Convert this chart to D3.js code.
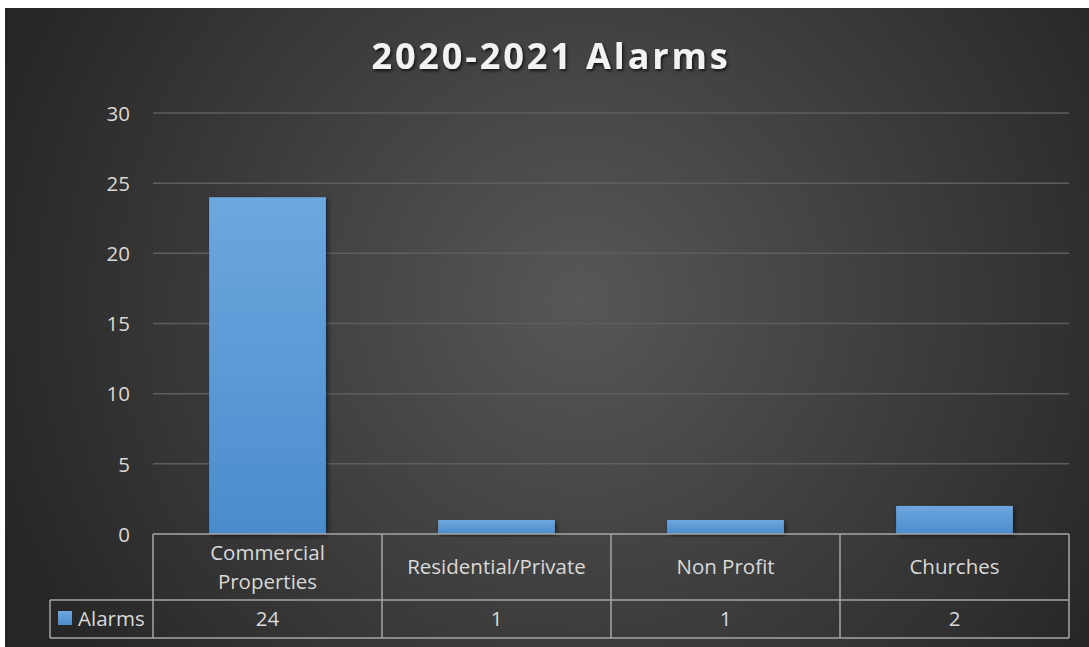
<!DOCTYPE html>
<html><head><meta charset="utf-8">
<script src="https://cdn.jsdelivr.net/npm/d3@7/dist/d3.min.js"></script>
<style>html,body{margin:0;padding:0;background:#fff;}svg{display:block;}</style>
</head><body>
<svg id="chart" width="1089" height="647"></svg>
<script>
const title = "2020-2021 Alarms";
const seriesName = "Alarms";
const categories = ["Commercial Properties", "Residential/Private", "Non Profit", "Churches"];
const categoryLines = [["Commercial", "Properties"], ["Residential/Private"], ["Non Profit"], ["Churches"]];
const values = [24, 1, 1, 2];
const yTicks = [0, 5, 10, 15, 20, 25, 30];

(function draw() {
const svg = d3.select("#chart");
const W = 1089, H = 647;
const defs = svg.append("defs");

const bg = defs.append("radialGradient").attr("id", "bg")
  .attr("gradientUnits", "userSpaceOnUse")
  .attr("cx", 580).attr("cy", 300).attr("r", 620);
bg.append("stop").attr("offset", "0%").attr("stop-color", "#575757");
bg.append("stop").attr("offset", "100%").attr("stop-color", "#262626");

const barGrad = defs.append("linearGradient").attr("id", "barg")
  .attr("x1", 0).attr("y1", 0).attr("x2", 0).attr("y2", 1);
barGrad.append("stop").attr("offset", "0%").attr("stop-color", "#6ea7de");
barGrad.append("stop").attr("offset", "100%").attr("stop-color", "#4a8ccd");

const shadow = defs.append("filter").attr("id", "sh").attr("x", "-20%").attr("y", "-20%").attr("width", "140%").attr("height", "140%");
shadow.append("feDropShadow").attr("dx", 2).attr("dy", 2).attr("stdDeviation", 2.5).attr("flood-color", "#000").attr("flood-opacity", 0.55);

const tsh = defs.append("filter").attr("id", "tsh").attr("x", "-10%").attr("y", "-30%").attr("width", "120%").attr("height", "160%");
tsh.append("feDropShadow").attr("dx", 1.5).attr("dy", 2).attr("stdDeviation", 1.5).attr("flood-color", "#000").attr("flood-opacity", 0.7);

svg.append("rect").attr("x", 5).attr("y", 8).attr("width", W - 5).attr("height", H - 8).attr("fill", "url(#bg)");

const font = "'Open Sans', 'Noto Sans', sans-serif";
const fs = 20.5;
const pLeft = 153, pRight = 1069, pTop = 113, pBottom = 534;

const x = d3.scaleBand().domain(categories).range([pLeft, pRight]).paddingInner(0.49).paddingOuter(0.245);
const xCell = d3.scaleBand().domain(categories).range([pLeft, pRight]).padding(0);
const y = d3.scaleLinear().domain([0, 30]).range([pBottom, pTop]);

// gridlines
svg.append("g").selectAll("line").data(yTicks.filter(t => t > 0)).join("line")
  .attr("x1", pLeft).attr("x2", pRight)
  .attr("y1", d => y(d)).attr("y2", d => y(d))
  .attr("stroke", "#5e5e5e").attr("stroke-width", 1.5);

// y axis labels
const yAxis = d3.axisLeft(y).tickValues(yTicks).tickSize(0).tickPadding(0);
const gy = svg.append("g").attr("transform", `translate(${pLeft - 23},0)`).call(yAxis);
gy.select(".domain").remove();
gy.selectAll("text").attr("fill", "#d9d9d9").attr("font-size", fs).attr("font-family", font).attr("dy", "0.35em");

// bars
svg.append("g").selectAll("rect").data(values).join("rect")
  .attr("x", (d, i) => x(categories[i]))
  .attr("width", x.bandwidth())
  .attr("y", d => y(d))
  .attr("height", d => y(0) - y(d))
  .attr("fill", "url(#barg)")
  .attr("filter", "url(#sh)");

// data table
const row1Top = pBottom, row1Bot = 600, row2Bot = 638, legendLeft = 50;
const tg = svg.append("g").attr("stroke", "#a6a6a6").attr("stroke-width", 1.5).attr("fill", "none");
tg.append("line").attr("x1", pLeft).attr("x2", pRight).attr("y1", row1Top).attr("y2", row1Top);
tg.append("line").attr("x1", legendLeft).attr("x2", pRight).attr("y1", row1Bot).attr("y2", row1Bot);
tg.append("line").attr("x1", legendLeft).attr("x2", pRight).attr("y1", row2Bot).attr("y2", row2Bot);
tg.append("line").attr("x1", legendLeft).attr("x2", legendLeft).attr("y1", row1Bot).attr("y2", row2Bot);
const vx = categories.map(c => xCell(c)).concat([pRight]);
tg.selectAll("line.v").data(vx).join("line").attr("class", "v")
  .attr("x1", d => d).attr("x2", d => d).attr("y1", row1Top).attr("y2", row2Bot);

// category labels
const cl = svg.append("g").attr("fill", "#d9d9d9").attr("font-size", fs).attr("font-family", font).attr("text-anchor", "middle");
categoryLines.forEach((lines, i) => {
  const cx = xCell(categories[i]) + xCell.bandwidth() / 2;
  const cy = (row1Top + row1Bot) / 2;
  const lh = 29;
  lines.forEach((ln, j) => {
    cl.append("text").attr("x", cx).attr("y", cy + (j - (lines.length - 1) / 2) * lh).attr("dy", "0.35em").text(ln);
  });
});

// values
svg.append("g").selectAll("text").data(values).join("text")
  .attr("x", (d, i) => xCell(categories[i]) + xCell.bandwidth() / 2)
  .attr("y", (row1Bot + row2Bot) / 2).attr("dy", "0.35em")
  .attr("text-anchor", "middle").attr("fill", "#d9d9d9").attr("font-size", fs).attr("font-family", font)
  .text(d => d);

// legend key
svg.append("rect").attr("x", 58).attr("y", 611).attr("width", 14).attr("height", 14).attr("fill", "url(#barg)");
svg.append("text").attr("x", 78).attr("y", (row1Bot + row2Bot) / 2).attr("dy", "0.35em")
  .attr("fill", "#d9d9d9").attr("font-size", fs).attr("font-family", font).text(seriesName);

// title
svg.append("text").attr("x", 551).attr("y", 56).attr("dy", "0.35em").attr("text-anchor", "middle")
  .attr("fill", "#f2f2f2").attr("font-size", 36).attr("font-weight", "bold").attr("font-family", font)
  .attr("letter-spacing", 2.9).attr("filter", "url(#tsh)").text(title);
})();
</script>
</body></html>
